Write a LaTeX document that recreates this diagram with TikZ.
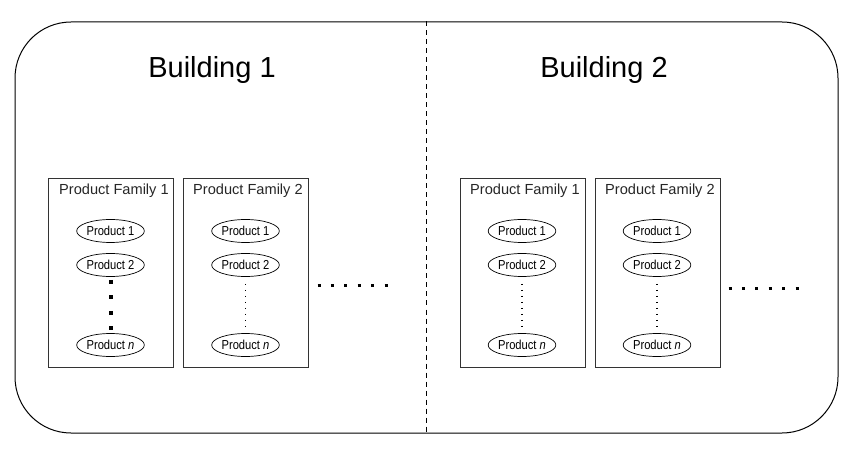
\documentclass[tikz,border=0pt]{standalone}
\usepackage{fontspec}
\setmainfont{Liberation Sans}
\newfontfamily\condfont[FakeStretch=0.86]{Liberation Sans}
\usetikzlibrary{shapes.geometric}
\begin{document}
\begin{tikzpicture}[x=1pt,y=-1pt,
  outerbox/.style={draw, line width=1pt, rounded corners=56pt, minimum width=823pt, minimum height=411pt, inner sep=0pt},
  title/.style={font=\fontsize{29}{32}\selectfont, inner sep=0pt},
  famkbox/.style={draw=black!80, line width=0.8pt, minimum width=125pt, minimum height=189pt, inner sep=0pt},
  famtext/.style={font=\fontsize{14.6}{16}\selectfont, anchor=base west, inner sep=0pt, text=black!85},
  prod/.style={ellipse, draw, line width=0.7pt, minimum width=55pt, minimum height=23pt, inner sep=0pt, font=\condfont\fontsize{13}{14}\selectfont},
  bigdots/.style={line width=4pt, dash pattern=on 4pt off 11.5pt},
  smalldots/.style={line width=1.5pt, dash pattern=on 1.5pt off 4.5pt},
  hdots/.style={line width=3pt, dash pattern=on 3pt off 10.4pt}
]
\useasboundingbox (0,0) rectangle (865,457);
\node[outerbox] (outer) at (426.5,227.5) {};
\draw[dashed, line width=1pt, dash pattern=on 5pt off 4pt] (outer.north) -- (outer.south);
\node[title] (b1) at (212,70) {Building 1};
\node[title] (b2) at (604,70) {Building 2};

% Building 1
\node[famkbox] (f11) at (110.5,272.5) {};
\node[famtext] (t11) at (59,195) {Product Family 1};
\node[prod] (p111) at (110.5,231) {Product 1};
\node[prod] (p112) at (110.5,265) {Product 2};
\node[prod] (p11n) at (110.5,345) {Product \textit{n}};
\draw[bigdots, shorten <=3pt, shorten >=2pt] (p112.south) -- (p11n.north);

\node[famkbox] (f12) at (245.5,272.5) {};
\node[famtext] (t12) at (193,195) {Product Family 2};
\node[prod] (p121) at (245.5,231) {Product 1};
\node[prod] (p122) at (245.5,265) {Product 2};
\node[prod] (p12n) at (245.5,345) {Product \textit{n}};
\draw[smalldots, shorten <=7pt, shorten >=6.5pt] (p122.south) -- (p12n.north);

\coordinate (h1s) at (317.5,285);
\coordinate (h1e) at (388,285);
\draw[hdots] (h1s) -- (h1e);

% Building 2
\node[famkbox] (f21) at (523,272.5) {};
\node[famtext] (t21) at (470,195) {Product Family 1};
\node[prod] (p211) at (522,231) {Product 1};
\node[prod] (p212) at (522,265) {Product 2};
\node[prod] (p21n) at (522,345) {Product \textit{n}};
\draw[smalldots, shorten <=7pt, shorten >=6.5pt] (p212.south) -- (p21n.north);

\node[famkbox] (f22) at (658,272.5) {};
\node[famtext] (t22) at (605,195) {Product Family 2};
\node[prod] (p221) at (657,231) {Product 1};
\node[prod] (p222) at (657,265) {Product 2};
\node[prod] (p22n) at (657,345) {Product \textit{n}};
\draw[smalldots, shorten <=7pt, shorten >=6.5pt] (p222.south) -- (p22n.north);

\coordinate (h2s) at (728.5,288);
\coordinate (h2e) at (799,288);
\draw[hdots] (h2s) -- (h2e);
\end{tikzpicture}
\end{document}
